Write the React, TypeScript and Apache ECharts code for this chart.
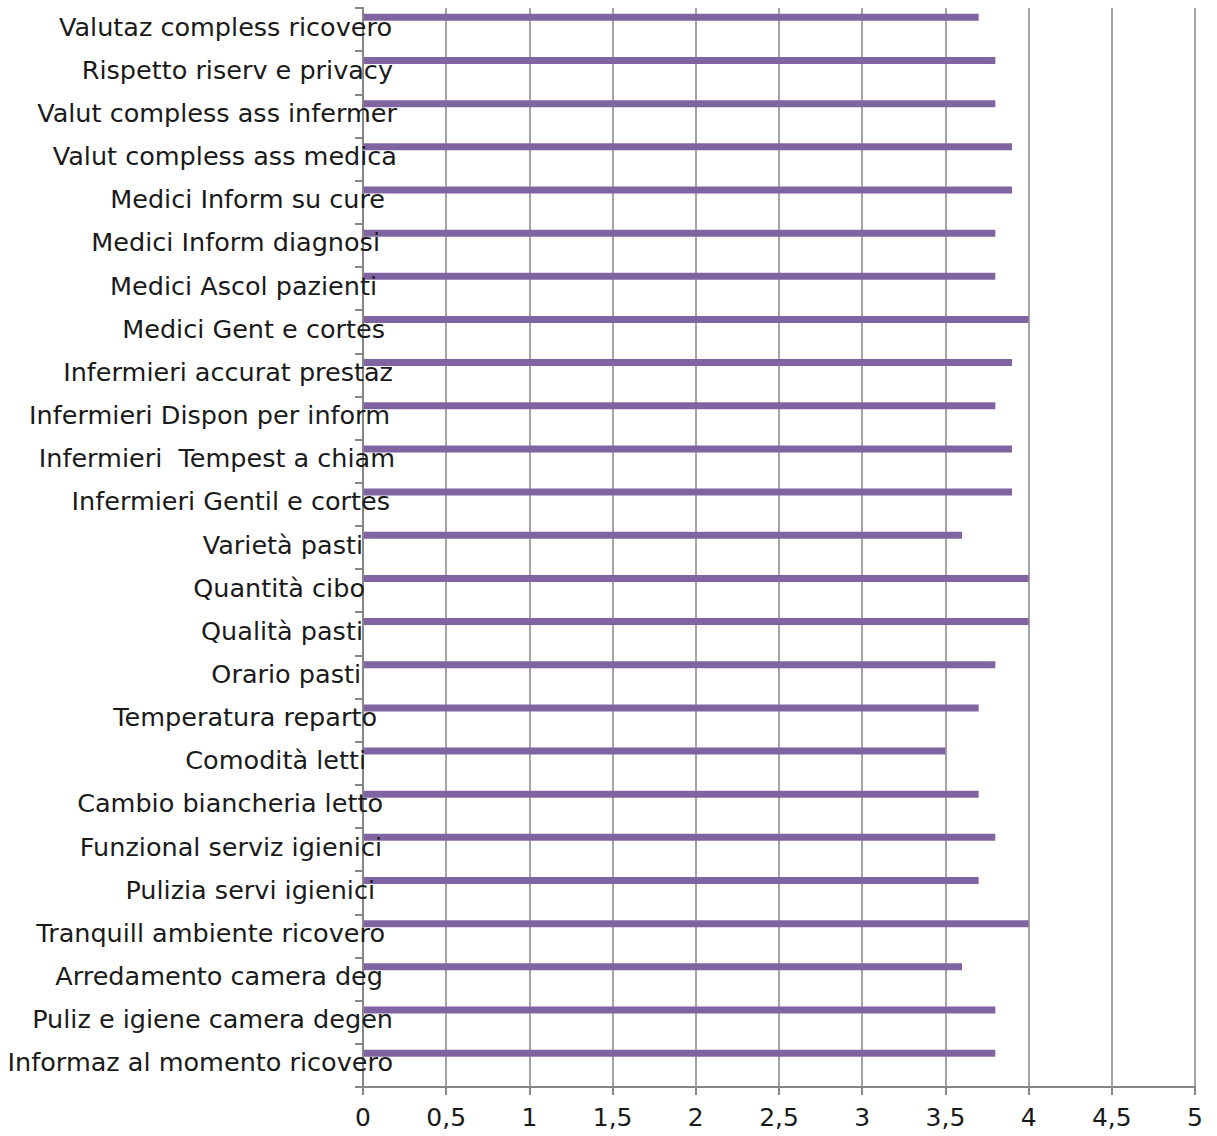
import React, { useEffect, useRef } from "react";
import * as echarts from "echarts";

// categories listed bottom to top
const categories = [
  "Informaz al momento ricovero",
  "Puliz e igiene camera degen",
  "Arredamento camera deg",
  "Tranquill ambiente ricovero",
  "Pulizia servi igienici",
  "Funzional serviz igienici",
  "Cambio biancheria letto",
  "Comodità letti",
  "Temperatura reparto",
  "Orario pasti",
  "Qualità pasti",
  "Quantità cibo",
  "Varietà pasti",
  "Infermieri Gentil e cortes",
  "Infermieri  Tempest a chiam",
  "Infermieri Dispon per inform",
  "Infermieri accurat prestaz",
  "Medici Gent e cortes",
  "Medici Ascol pazienti",
  "Medici Inform diagnosi",
  "Medici Inform su cure",
  "Valut compless ass medica",
  "Valut compless ass infermer",
  "Rispetto riserv e privacy",
  "Valutaz compless ricovero",
];

const values = [
  3.8, 3.8, 3.6, 4.0, 3.7, 3.8, 3.7, 3.5, 3.7, 3.8, 4.0, 4.0, 3.6,
  3.9, 3.9, 3.8, 3.9, 4.0, 3.8, 3.8, 3.9, 3.9, 3.8, 3.8, 3.7,
];

const emptySeries = categories.map(() => null);

const xMin = 0;
const xMax = 5;
const xInterval = 0.5;

const FONT = "DejaVu Sans";

// right-edge inset of each category label (px), bottom to top, as in the source layout
const labelInset = [
  4, 4, 14, 12, 22, 15, 14, 31, 20, 36, 34, 32, 34,
  7, 2, 7, 4, 12, 20, 17, 12, 0, 0, 4, 5,
];

export default function App() {
  const ref = useRef<HTMLDivElement>(null);
  useEffect(() => {
    if (!ref.current) return;
    const chart = echarts.init(ref.current, null, { renderer: "svg" });
    const rich: Record<string, any> = {};
    labelInset.forEach((p, i) => {
      rich["s" + i] = {
        fontFamily: FONT,
        fontSize: 25.5,
        color: "#1a1a1a",
        padding: [0, p, 6, 0],
      };
    });
    chart.setOption({
      animation: false,
      backgroundColor: "#ffffff",
      grid: { left: 363, right: 22, top: 8, bottom: 49, containLabel: false },
      xAxis: {
        type: "value",
        min: xMin,
        max: xMax,
        interval: xInterval,
        axisLine: { show: true, lineStyle: { color: "#868686", width: 2 } },
        axisTick: { show: true, length: 8, lineStyle: { color: "#868686", width: 2 } },
        splitLine: { show: true, lineStyle: { color: "#868686", width: 1.5 } },
        axisLabel: {
          color: "#1a1a1a",
          fontFamily: FONT,
          fontSize: 25,
          margin: 18,
          formatter: (v: number) => String(v).replace(".", ","),
        },
      },
      yAxis: {
        type: "category",
        data: categories,
        axisLine: { show: true, lineStyle: { color: "#868686", width: 2 } },
        axisTick: { show: true, length: 8, lineStyle: { color: "#868686", width: 2 } },
        axisLabel: {
          color: "#1a1a1a",
          fontFamily: FONT,
          fontSize: 25.5,
          margin: -34,
          align: "right",
          formatter: (v: string, i: number) => `{s${i}|${v}}`,
          rich,
        },
        z: 10,
      },
      series: [
        {
          type: "bar",
          data: values,
          barWidth: 7,
          barGap: "250%",
          itemStyle: { color: "#8064A2" },
          z: 1,
        },
        {
          type: "bar",
          data: emptySeries,
          barWidth: 7,
          itemStyle: { color: "#4F81BD" },
        },
      ],
    });
    return () => chart.dispose();
  }, []);
  return (
    <div
      ref={ref}
      style={{ position: "absolute", left: 0, top: 0, width: 1217, height: 1136 }}
    />
  );
}
